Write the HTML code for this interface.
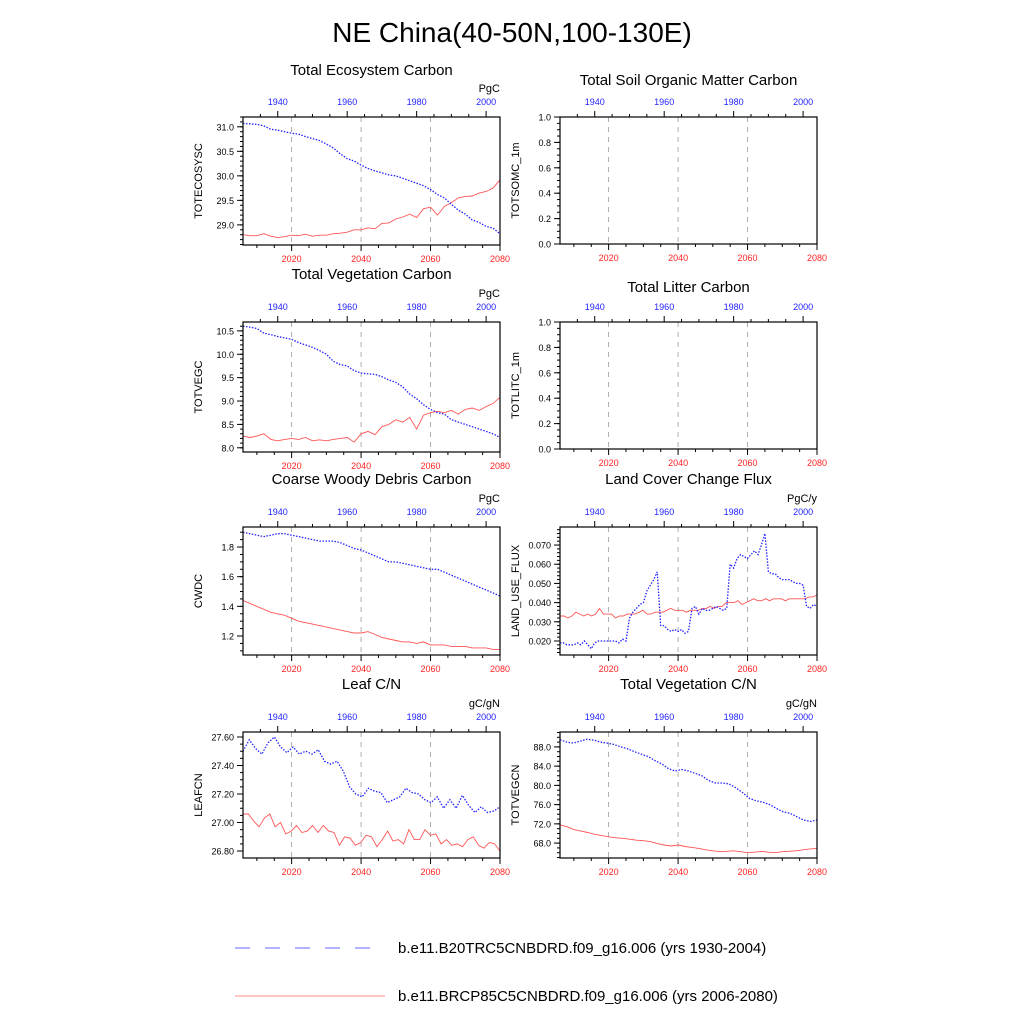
<!DOCTYPE html>
<html><head><meta charset="utf-8">
<style>
html,body{margin:0;padding:0;background:#fff;}
svg{display:block;font-family:"Liberation Sans",sans-serif;}
</style></head>
<body>
<svg id="chart" width="1024" height="1024" viewBox="0 0 1024 1024">
<text x="512" y="42" font-size="28" text-anchor="middle">NE China(40-50N,100-130E)</text>
<g>
<line x1="235" y1="948" x2="385" y2="948" stroke="#6666ff" stroke-width="1" stroke-dasharray="15,15"/>
<text x="398" y="953" font-size="15">b.e11.B20TRC5CNBDRD.f09_g16.006 (yrs 1930-2004)</text>
<line x1="235" y1="996" x2="385" y2="996" stroke="#ff8888" stroke-width="1"/>
<text x="398" y="1001" font-size="15">b.e11.BRCP85C5CNBDRD.f09_g16.006 (yrs 2006-2080)</text>
</g>
</svg>
<script>
// ---- data ----
const p1Blue=[31.07,31.06,31.05,31.02,30.95,30.93,30.90,30.87,30.85,30.80,30.76,30.72,30.65,30.57,30.45,30.35,30.30,30.22,30.15,30.10,30.06,30.02,30.00,29.95,29.90,29.85,29.80,29.72,29.62,29.55,29.42,29.30,29.22,29.10,29.05,28.97,28.93,28.82];
const p1Red=[28.80,28.78,28.78,28.82,28.77,28.74,28.76,28.79,28.78,28.81,28.77,28.79,28.79,28.82,28.83,28.85,28.90,28.90,28.94,28.92,29.03,29.04,29.12,29.16,29.22,29.15,29.33,29.36,29.20,29.38,29.45,29.55,29.58,29.59,29.65,29.68,29.75,29.92];
const p2Blue=[10.60,10.58,10.55,10.45,10.42,10.38,10.35,10.32,10.25,10.20,10.15,10.08,10.00,9.85,9.78,9.75,9.65,9.60,9.58,9.57,9.52,9.45,9.40,9.30,9.15,9.05,8.92,8.82,8.75,8.72,8.60,8.55,8.50,8.45,8.40,8.35,8.30,8.22];
const p2Red=[8.25,8.22,8.25,8.30,8.18,8.15,8.18,8.20,8.18,8.22,8.15,8.17,8.15,8.18,8.20,8.22,8.12,8.30,8.35,8.28,8.45,8.50,8.60,8.55,8.65,8.40,8.70,8.75,8.78,8.75,8.80,8.72,8.82,8.85,8.80,8.88,8.95,9.08];
const p3Blue=[1.90,1.89,1.88,1.87,1.88,1.89,1.89,1.88,1.87,1.86,1.85,1.84,1.84,1.84,1.83,1.81,1.79,1.78,1.76,1.74,1.72,1.70,1.70,1.69,1.68,1.67,1.66,1.65,1.65,1.63,1.61,1.59,1.57,1.55,1.53,1.51,1.49,1.47];
const p3Red=[1.44,1.42,1.40,1.38,1.36,1.35,1.34,1.32,1.30,1.29,1.28,1.27,1.26,1.25,1.24,1.23,1.22,1.22,1.23,1.21,1.19,1.18,1.17,1.16,1.16,1.15,1.16,1.14,1.14,1.14,1.13,1.13,1.13,1.12,1.12,1.12,1.11,1.11];
const p4Blue=[27.50,27.58,27.52,27.48,27.56,27.60,27.53,27.49,27.53,27.48,27.50,27.48,27.51,27.43,27.41,27.43,27.36,27.25,27.20,27.18,27.24,27.22,27.21,27.14,27.16,27.18,27.24,27.21,27.20,27.16,27.14,27.18,27.10,27.16,27.10,27.19,27.12,27.07,27.11,27.07,27.08,27.11];
const p4Red=[27.06,27.06,27.01,26.97,27.03,27.06,26.97,27.00,26.92,26.94,26.98,26.93,26.94,26.98,26.93,26.98,26.94,26.93,26.84,26.90,26.89,26.84,26.86,26.91,26.90,26.83,26.88,26.94,26.87,26.88,26.85,26.95,26.88,26.88,26.95,26.91,26.92,26.85,26.88,26.84,26.85,26.83,26.88,26.90,26.84,26.82,26.86,26.85,26.80];
const lufBlue=[.019,.019,.018,.018,.018,.019,.018,.020,.018,.016,.019,.020,.020,.020,.020,.020,.020,.019,.021,.020,.032,.035,.037,.039,.040,.046,.049,.052,.056,.028,.028,.026,.025,.026,.025,.026,.024,.025,.037,.038,.034,.037,.036,.036,.037,.038,.037,.036,.037,.060,.058,.063,.065,.064,.063,.065,.067,.065,.070,.076,.056,.055,.055,.053,.052,.052,.052,.051,.050,.050,.049,.038,.037,.039,.038];
const lufRed=[.033,.033,.032,.033,.035,.034,.033,.034,.033,.034,.037,.034,.034,.034,.032,.033,.033,.034,.034,.034,.035,.036,.034,.034,.035,.035,.035,.036,.037,.036,.036,.036,.035,.036,.036,.036,.037,.037,.038,.037,.038,.038,.040,.040,.040,.041,.039,.040,.041,.042,.041,.041,.042,.041,.042,.042,.042,.041,.042,.042,.042,.042,.042,.043,.043,.044];
const vcnBlue=[89.5,89.0,88.8,89.2,89.6,89.4,89.0,88.8,88.5,88.0,87.6,87.0,86.5,86.0,85.2,84.5,83.5,83.0,83.3,83.0,82.5,82.0,81.0,80.5,80.5,80.3,79.5,78.5,77.3,76.8,76.5,76.0,75.2,74.5,74.2,73.5,72.8,72.5,72.8];
const vcnRed=[71.8,71.4,70.8,70.5,70.2,69.8,69.6,69.3,69.1,69.0,68.8,68.6,68.5,68.3,67.9,67.6,67.4,67.6,67.3,67.1,66.9,66.6,66.4,66.2,66.3,66.4,66.2,66.0,66.1,66.3,66.1,66.0,66.2,66.3,66.4,66.6,66.8,66.9];
const ticksP1=[29.0,29.5,30.0,30.5,31.0];
const ticksP2=[8.0,8.5,9.0,9.5,10.0,10.5];
const ticksP3=[1.2,1.4,1.6,1.8];
const ticksP4=[26.80,27.00,27.20,27.40,27.60];
const ticksUnit=[0,0.2,0.4,0.6,0.8,1.0];
const ticksLuf=[0.020,0.030,0.040,0.050,0.060,0.070];
const ticksVcn=[68,72,76,80,84,88];
const bottomYears=[2020,2040,2060,2080];
const topYears=[1940,1960,1980,2000];

const NS="http://www.w3.org/2000/svg";
const svg=document.getElementById('chart');
function mk(tag,attrs,parent){const e=document.createElementNS(NS,tag);for(const k in attrs)e.setAttribute(k,attrs[k]);(parent||svg).appendChild(e);return e;}

const panels=[
 {name:'total-ecosystem-carbon',title:'Total Ecosystem Carbon',ylab:'TOTECOSYSC',unit:'PgC',x0:243,y0:117,y1:245,ymin:28.59,ymax:31.2,ticks:ticksP1,dec:1,minor:0.1,blue:p1Blue,red:p1Red,ty:75},
 {name:'total-soil-organic-matter-carbon',title:'Total Soil Organic Matter Carbon',ylab:'TOTSOMC_1m',unit:'',x0:560,y0:117,y1:244,ymin:0,ymax:1,ticks:ticksUnit,dec:1,minor:0.05,blue:null,red:null,ty:85},
 {name:'total-vegetation-carbon',title:'Total Vegetation Carbon',ylab:'TOTVEGC',unit:'PgC',x0:243,y0:322,y1:452,ymin:7.91,ymax:10.69,ticks:ticksP2,dec:1,minor:0.1,blue:p2Blue,red:p2Red,ty:279},
 {name:'total-litter-carbon',title:'Total Litter Carbon',ylab:'TOTLITC_1m',unit:'',x0:560,y0:322,y1:449,ymin:0,ymax:1,ticks:ticksUnit,dec:1,minor:0.05,blue:null,red:null,ty:292},
 {name:'coarse-woody-debris-carbon',title:'Coarse Woody Debris Carbon',ylab:'CWDC',unit:'PgC',x0:243,y0:527,y1:655,ymin:1.072,ymax:1.935,ticks:ticksP3,dec:1,minor:0.05,blue:p3Blue,red:p3Red,ty:484},
 {name:'land-cover-change-flux',title:'Land Cover Change Flux',ylab:'LAND_USE_FLUX',unit:'PgC/y',x0:560,y0:527,y1:655,ymin:0.0127,ymax:0.0794,ticks:ticksLuf,dec:3,minor:0.002,blue:lufBlue,red:lufRed,ty:484},
 {name:'leaf-cn',title:'Leaf C/N',ylab:'LEAFCN',unit:'gC/gN',x0:243,y0:732,y1:858,ymin:26.751,ymax:27.635,ticks:ticksP4,dec:2,minor:0.05,blue:p4Blue,red:p4Red,ty:689},
 {name:'total-vegetation-cn',title:'Total Vegetation C/N',ylab:'TOTVEGCN',unit:'gC/gN',x0:560,y0:732,y1:858,ymin:64.9,ymax:91.1,ticks:ticksVcn,dec:1,minor:1,blue:vcnBlue,red:vcnRed,ty:689}
];
const W=257;
panels.forEach(p=>{
 const g=mk('g',{});
 
 
 const x1=p.x0+W;
 const xB=y=>p.x0+(y-2006)/74*W;
 const xT=y=>p.x0+(y-1930)/74*W;
 const yS=v=>p.y1-(v-p.ymin)/(p.ymax-p.ymin)*(p.y1-p.y0);
 const t=mk('text',{x:p.x0+W/2,y:p.ty,'font-size':15,'text-anchor':'middle'},g);t.textContent=p.title;
 
 if(p.unit){const u=mk('text',{x:x1,y:p.y0-25,'font-size':11,'text-anchor':'end'},g);u.textContent=p.unit;
  }
 [2020,2040,2060].forEach(yr=>{const l=mk('line',{x1:xB(yr),x2:xB(yr),y1:p.y0,y2:p.y1,stroke:'#999','stroke-dasharray':'5,5','stroke-width':0.8},g);
  });
 for(let yr=2010;yr<=2080;yr+=5){const maj=yr%20==0;mk('line',{x1:xB(yr),x2:xB(yr),y1:p.y1,y2:p.y1+(maj?6:3),stroke:'#000','stroke-width':1},g);}
 bottomYears.forEach(yr=>{const tx=mk('text',{x:xB(yr),y:p.y1+17,'font-size':9,fill:'#ff2222','text-anchor':'middle'},g);tx.textContent=yr;
  });
 for(let yr=1935;yr<=2000;yr+=5){const maj=yr%20==0;mk('line',{x1:xT(yr),x2:xT(yr),y1:p.y0,y2:p.y0-(maj?6:3),stroke:'#000','stroke-width':1},g);}
 topYears.forEach(yr=>{const tx=mk('text',{x:xT(yr),y:p.y0-12,'font-size':9,fill:'#2222ff','text-anchor':'middle'},g);tx.textContent=yr;
  });
 for(let v=Math.ceil(p.ymin/p.minor-1e-6)*p.minor;v<=p.ymax+1e-9;v+=p.minor){mk('line',{x1:p.x0,x2:p.x0-3,y1:yS(v),y2:yS(v),stroke:'#000','stroke-width':1},g);}
 p.ticks.forEach(v=>{mk('line',{x1:p.x0,x2:p.x0-6,y1:yS(v),y2:yS(v),stroke:'#000','stroke-width':1},g);
  const tx=mk('text',{x:p.x0-9,y:yS(v)+3.5,'font-size':9,'text-anchor':'end'},g);tx.textContent=v.toFixed(p.dec);
  });
 const yl=mk('text',{x:0,y:0,'font-size':11,'text-anchor':'middle',transform:`translate(${p.x0-41},${(p.y0+p.y1)/2}) rotate(-90)`},g);yl.textContent=p.ylab;
 
 if(p.red){const pts=p.red.map((v,i)=>`${(p.x0+i/(p.red.length-1)*W).toFixed(1)},${yS(v).toFixed(1)}`).join(' ');
  const l=mk('polyline',{points:pts,fill:'none',stroke:'#ff5555','stroke-width':0.9},g);
  }
 if(p.blue){const pts=p.blue.map((v,i)=>`${(p.x0+i/(p.blue.length-1)*W).toFixed(1)},${yS(v).toFixed(1)}`).join(' ');
  const l=mk('polyline',{points:pts,fill:'none',stroke:'#2222ff','stroke-width':1.3,'stroke-dasharray':'1.5,1.5'},g);
  }
 const fr=mk('rect',{x:p.x0,y:p.y0,width:W,height:p.y1-p.y0,fill:'none',stroke:'#000','stroke-width':1.2},g);
 
});
</script>
</body></html>
